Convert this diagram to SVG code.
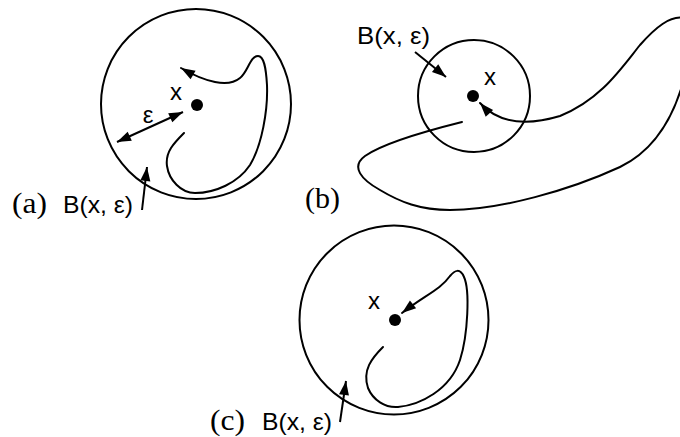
<svg xmlns="http://www.w3.org/2000/svg" width="680" height="437" viewBox="0 0 680 437">
<style>
.ball{fill:none;stroke:#000;stroke-width:2}
.pt{fill:#000}
.cv{fill:none;stroke:#000;stroke-width:2.2;stroke-linecap:round}
.ar{fill:none;stroke:#000;stroke-width:2;marker-end:url(#ah)}
.dbl{marker-start:url(#ah)}
.sans{font-family:"Liberation Sans",Arial,sans-serif;font-size:24px;fill:#000}
.lbl{font-family:"Liberation Serif","DejaVu Serif",serif;font-size:30px;fill:#000}
</style>
<defs>
<marker id="ah" viewBox="-15 -6 16 12" refX="0" refY="0" markerWidth="16" markerHeight="12" markerUnits="userSpaceOnUse" orient="auto-start-reverse">
<path d="M0,0 L-14,-5 L-14,5 z" fill="#000"/>
</marker>
</defs>
<g id="panel-a">
<circle class="ball" cx="196" cy="104" r="95"/>
<circle class="pt" cx="197" cy="105" r="6"/>
<text class="sans" x="176" y="100" text-anchor="middle">x</text>
<text class="sans" x="148" y="123" text-anchor="middle">ε</text>
<text class="lbl" x="12" y="213" textLength="35" lengthAdjust="spacingAndGlyphs">(a)</text>
<text class="sans" x="63" y="213" textLength="70" lengthAdjust="spacingAndGlyphs">B(x, ε)</text>
</g>
<g id="panel-b">
<circle class="ball" cx="474" cy="96" r="56"/>
<circle class="pt" cx="473" cy="96" r="6"/>
<text class="sans" x="490" y="85" text-anchor="middle">x</text>
<text class="sans" x="357" y="44" textLength="73" lengthAdjust="spacingAndGlyphs">B(x, ε)</text>
<text class="lbl" x="305" y="208" textLength="35" lengthAdjust="spacingAndGlyphs">(b)</text>
</g>
<g id="panel-c">
<circle class="ball" cx="394" cy="320" r="94.5"/>
<circle class="pt" cx="395" cy="320" r="6"/>
<text class="sans" x="374" y="309" text-anchor="middle">x</text>
<text class="lbl" x="210" y="430" textLength="35" lengthAdjust="spacingAndGlyphs">(c)</text>
<text class="sans" x="262" y="430" textLength="70" lengthAdjust="spacingAndGlyphs">B(x, ε)</text>
</g>
<g id="connectors">
<path class="cv ar" d="M184,133 C174,143 165,152 167,166 C169,180 181,193 195,193 C215,193 238,183 250,165 C262,145 268,110 267,85 C266,68 264,56 258,56 C250,56 248,72 240,78 C228,88 205,82 181,68"/>
<line class="ar dbl" x1="117" y1="142" x2="183" y2="112"/>
<line class="ar" x1="142" y1="210" x2="147" y2="167"/>
<path class="cv ar" d="M462,122 C430,130 385,142 365,156 C350,167 362,180 380,190 C400,202 420,210 450,210 C500,210 570,190 620,167 C655,150 675,115 685,75 C692,45 695,20 685,18 C670,15 655,28 640,45 C620,70 600,100 560,116 C530,125 500,125 480,103"/>
<line class="ar" x1="415" y1="52" x2="446" y2="77"/>
<path class="cv ar" d="M383,347 C372,358 362,370 368,388 C373,400 385,408 398,407 C420,405 450,390 460,360 C468,335 470,290 464,277 C460,268 455,270 450,276 C440,290 425,295 402,313"/>
<line class="ar" x1="340" y1="422" x2="346" y2="381"/>
</g>
</svg>
